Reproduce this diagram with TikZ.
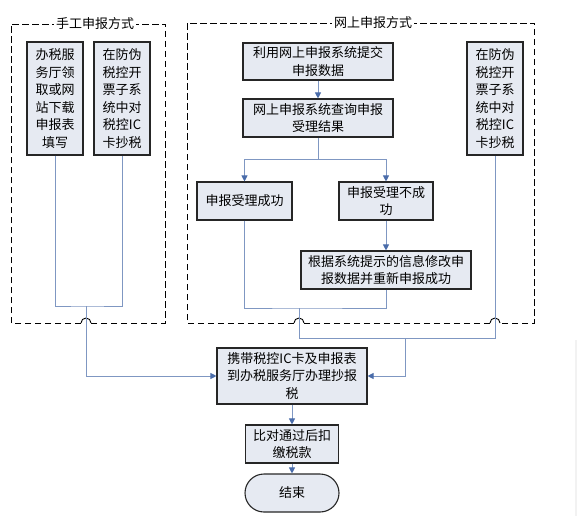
\documentclass[tikz,border=0pt]{standalone}
\usepackage{fontspec}
\setmainfont{Noto Sans CJK SC}
\usetikzlibrary{arrows.meta}
\definecolor{boxfill}{HTML}{E6EAF2}
\definecolor{conn}{HTML}{7F97C2}
\definecolor{tip}{HTML}{4A6CAA}
\begin{document}
\begin{tikzpicture}[x=1pt,y=-1pt,
 box/.style={draw=black!85,line width=1.1pt,fill=boxfill,inner sep=0pt,align=center,font=\fontsize{13}{17.5}\selectfont},
 conline/.style={draw=conn,line width=0.9pt},
 arr/.style={conline,-{Triangle[length=6pt,width=6pt,color=tip]}},
 dashframe/.style={dash pattern=on 6.5pt off 3.5pt,line width=0.9pt,draw=black},
 hop/.style={line width=0.9pt,draw=black},
 ftitle/.style={fill=white,inner sep=2pt,font=\fontsize{13}{15}\selectfont}]
\useasboundingbox (0,0) rectangle (578,516);

% frames
\draw[dashframe] (81,323) -- (11,323) -- (11,24) -- (165,24) -- (165,323) -- (91,323);
\draw[hop] (91,323) arc[start angle=0,end angle=-180,radius=5];
\node[ftitle] (t1) at (95,24) {手工申报方式};

\draw[dashframe] (294,323) -- (187,323) -- (187,23) -- (534,23) -- (534,323) -- (500,323);
\draw[dashframe] (490,323) -- (304,323);
\draw[hop] (304,323) arc[start angle=0,end angle=-180,radius=5];
\draw[hop] (500,323) arc[start angle=0,end angle=-180,radius=5];
\node[ftitle] (t2) at (373,23) {网上申报方式};

% nodes
\node[box,minimum width=56,minimum height=113] (b1) at (55,98.5) {办税服\\务厅领\\取或网\\站下载\\申报表\\填写};
\node[box,minimum width=56,minimum height=113] (b2) at (122,98.5) {在防伪\\税控开\\票子系\\统中对\\税控IC\\卡抄税};
\node[box,minimum width=150,minimum height=37] (sub) at (318,61.5) {利用网上申报系统提交\\申报数据};
\node[box,minimum width=150,minimum height=38] (query) at (318,118) {网上申报系统查询申报\\受理结果};
\node[box,minimum width=95,minimum height=38] (ok) at (244.5,201) {申报受理成功};
\node[box,minimum width=94,minimum height=38] (fail) at (386,201) {申报受理不成\\功};
\node[box,minimum width=170,minimum height=38] (fix) at (386,270) {根据系统提示的信息修改申\\报数据并重新申报成功};
\node[box,minimum width=56,minimum height=113] (ic2) at (495,98.5) {在防伪\\税控开\\票子系\\统中对\\税控IC\\卡抄税};
\node[box,minimum width=150,minimum height=56] (carry) at (292,376) {携带税控IC卡及申报表\\到办税服务厅办理抄报\\税};
\node[box,minimum width=93,minimum height=38] (pay) at (292,444) {比对通过后扣\\缴税款};
\node[box,minimum width=94,minimum height=38,rounded corners=19pt] (end) at (292,493) {结束};

% junctions
\coordinate (jl) at (86,306);
\coordinate (js) at (318,159);
\coordinate (jm) at (299,308);
\coordinate (jr) at (405,338);

% connectors
\draw[conline] (b1.south) |- (jl) -| (b2.south);
\draw[arr] (jl) |- (carry.west);
\draw[arr] (sub) -- (query);
\draw[conline] (query.south) -- (js);
\draw[arr] (js) -| (ok.north);
\draw[arr] (js) -| (fail.north);
\draw[arr] (fail) -- (fix);
\draw[conline] (ok.south) |- (jm) -| (fix.south);
\draw[conline] (jm) |- (ic2.south |- jr) -- (ic2.south);
\draw[arr] (jr) |- (carry.east);
\draw[arr] (carry) -- (pay);
\draw[arr] (pay) -- (end);

% faint edge line
\draw[gray!10,line width=1.5pt] (576,340) -- (576,516);
\end{tikzpicture}
\end{document}
